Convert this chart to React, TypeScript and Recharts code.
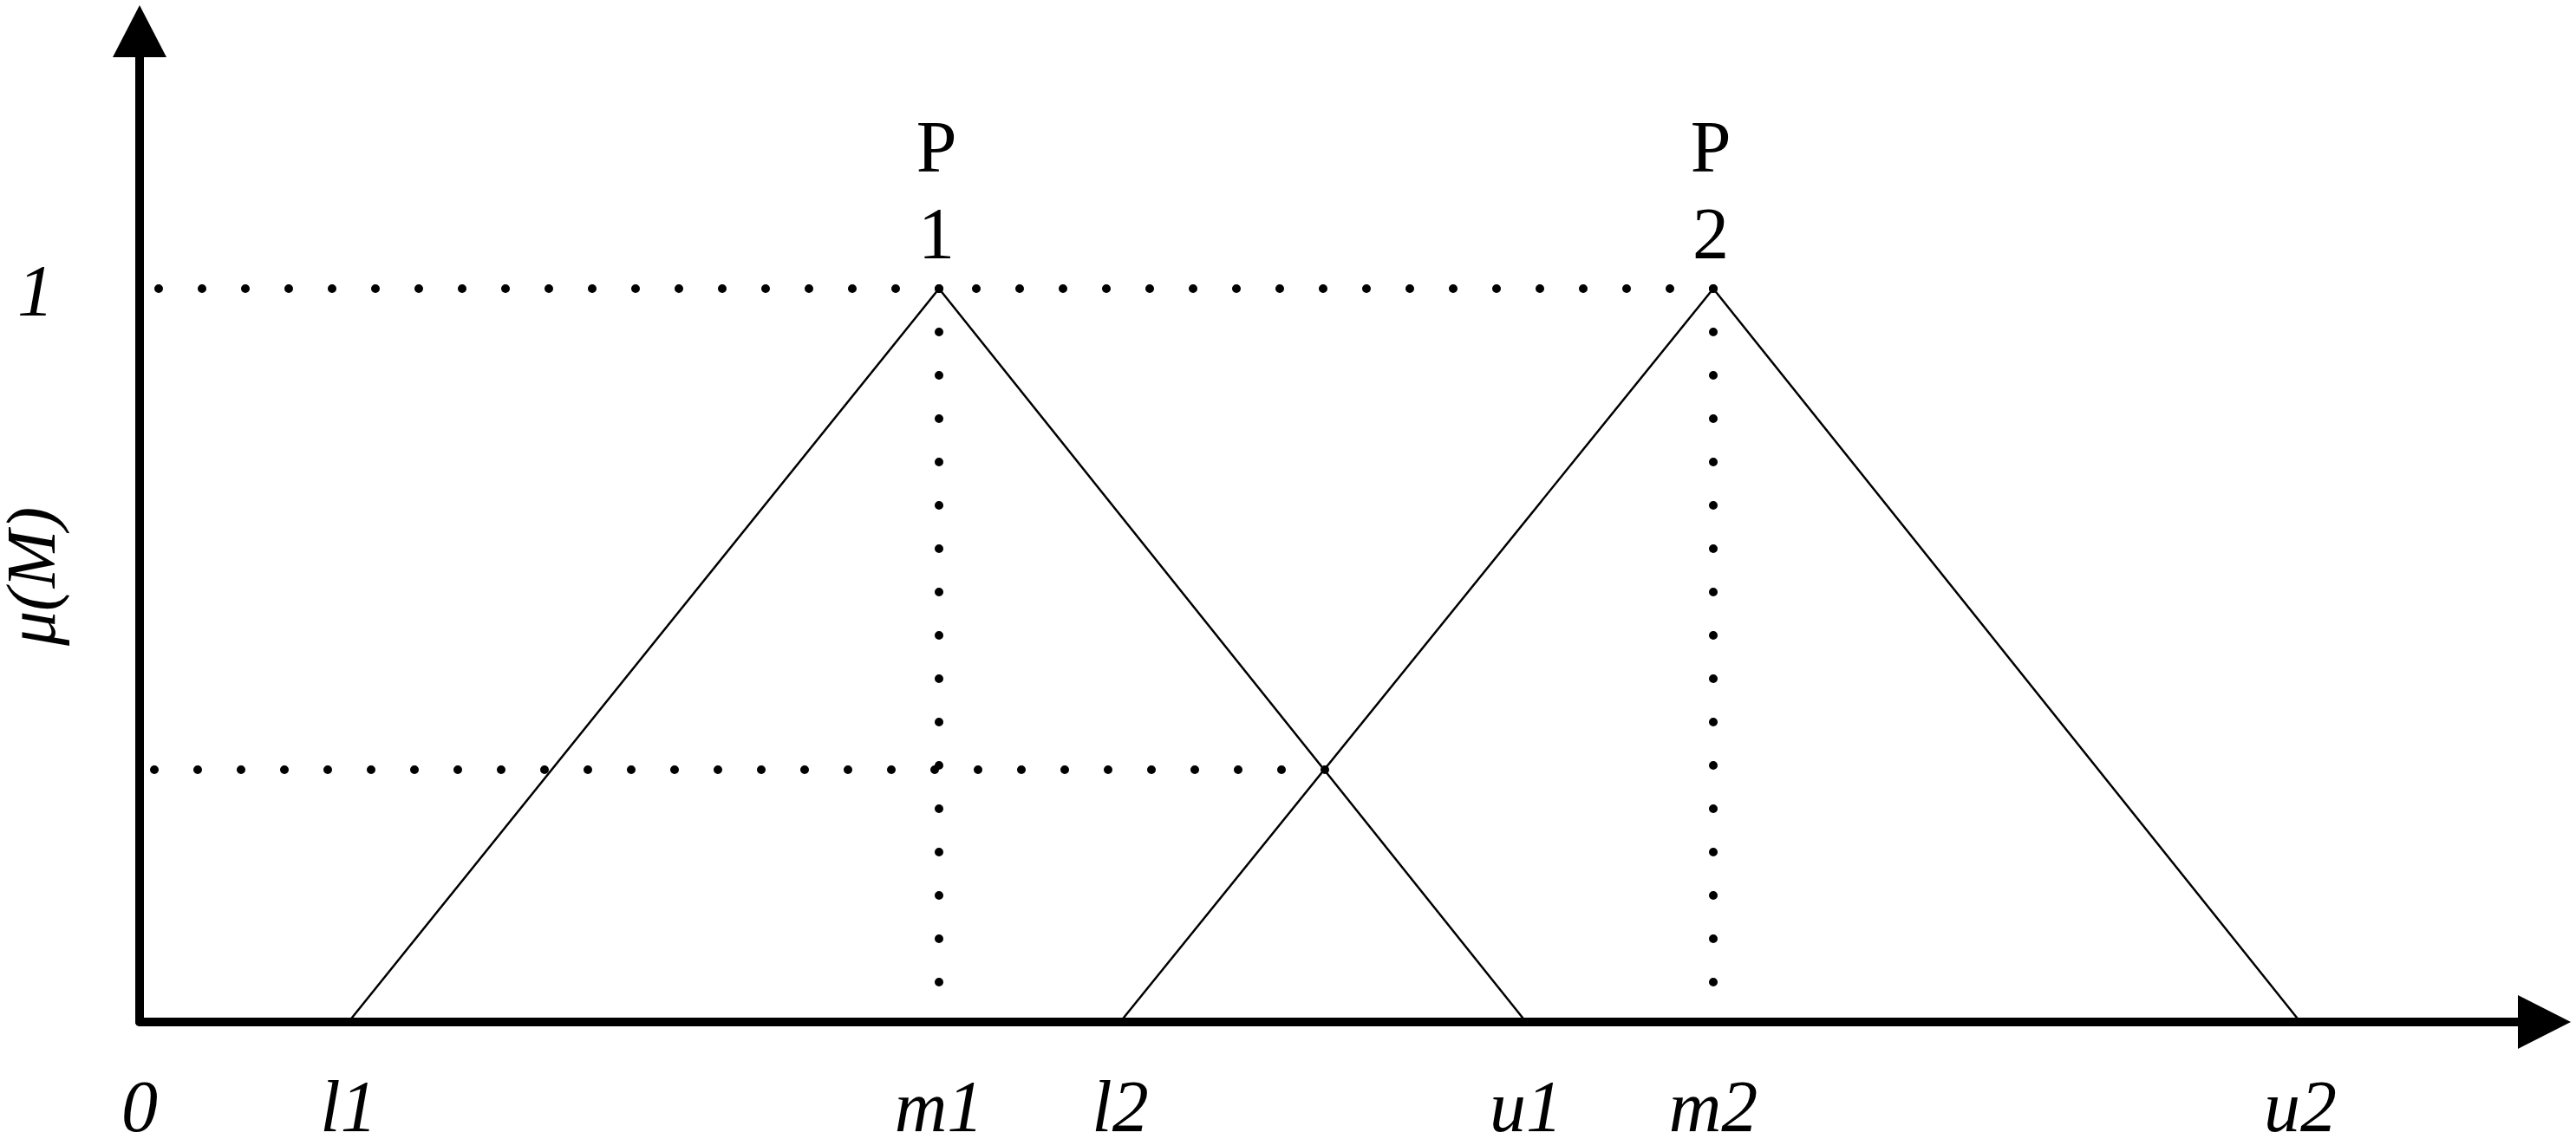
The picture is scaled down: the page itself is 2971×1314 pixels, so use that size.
import React from "react";
import {
  ComposedChart,
  Line,
  Scatter,
  XAxis,
  YAxis,
  ReferenceLine,
  Label,
} from "recharts";

// x positions of the fuzzy numbers (arbitrary units, y axis at 0)
const xTickValues = [0, 2.41, 9.22, 11.31, 15.99, 18.15, 24.92];
const xTickLabels = ["0", "l1", "m1", "l2", "u1", "m2", "u2"];

const yTickValues = [1];
const yTickLabels = ["1"];

const triangle1 = [
  { x: 2.41, y: 0 },
  { x: 9.22, y: 1 },
  { x: 15.99, y: 0 },
];
const triangle2 = [
  { x: 11.31, y: 0 },
  { x: 18.15, y: 1 },
  { x: 24.92, y: 0 },
];

const peaks = [
  { x: 9.22, y: 1, name: "P", sub: "1" },
  { x: 18.15, y: 1, name: "P", sub: "2" },
];

// crossing of the two triangles and where the dotted guides start
const crossing = { x: 13.67, y: 0.344 };
const guideStart = [0.2, 0.15];

// axis ends and arrow tips
const axisEnd = { x: 27.5, y: 1.32 };
const arrowTips = [
  { x: 28.04, y: 0, dir: "right" },
  { x: 0, y: 1.3865, dir: "up" },
];

const serif = "'Liberation Serif', 'Times New Roman', serif";
const dotted = {
  stroke: "#000",
  strokeWidth: 10,
  strokeDasharray: "0 50",
  strokeLinecap: "round" as const,
};

const XTick = (props: any) => {
  const { x, y, payload } = props;
  const i = xTickValues.indexOf(payload.value);
  return (
    <text x={x} y={y + 126} textAnchor="middle" fontFamily={serif} fontStyle="italic" fontSize={84} fill="#000">
      {xTickLabels[i]}
    </text>
  );
};

const YTick = (props: any) => {
  const { x, y, payload } = props;
  const i = yTickValues.indexOf(payload.value);
  return (
    <text x={x - 120} y={y + 31} textAnchor="middle" fontFamily={serif} fontStyle="italic" fontSize={84} fill="#000">
      {yTickLabels[i]}
    </text>
  );
};

const MuLabel = (props: any) => {
  const vb = props.viewBox || { x: 0, y: 0, width: 161, height: 1176 };
  const cx = vb.x + 63;
  const cy = vb.y + 662;
  return (
    <text
      x={cx}
      y={cy}
      transform={`rotate(-90, ${cx}, ${cy})`}
      textAnchor="middle"
      fontFamily={serif}
      fontStyle="italic"
      fontSize={80}
      fill="#000"
    >
      μ(M)
    </text>
  );
};

const PeakLabel = (props: any) => {
  const { cx, cy, payload } = props;
  return (
    <g>
      <text x={cx - 3} y={cy - 135} textAnchor="middle" fontFamily={serif} fontSize={84} fill="#000">
        {payload.name}
      </text>
      <text x={cx - 3} y={cy - 35} textAnchor="middle" fontFamily={serif} fontSize={84} fill="#000">
        {payload.sub}
      </text>
    </g>
  );
};

const Arrow = (props: any) => {
  const { cx, cy, payload } = props;
  const pts =
    payload.dir === "right"
      ? `${cx},${cy} ${cx - 61},${cy - 31} ${cx - 61},${cy + 31}`
      : `${cx},${cy} ${cx - 31},${cy + 60} ${cx + 31},${cy + 60}`;
  return <polygon points={pts} fill="#000" />;
};

export default function App() {
  const m1 = peaks[0].x;
  const m2 = peaks[1].x;
  return (
    <div style={{ position: "fixed", left: 0, top: 0, background: "#fff" }}>
      <ComposedChart width={2971} height={1314} margin={{ top: 3, right: 0, bottom: 0, left: 0 }}>
        <XAxis
          type="number"
          dataKey="x"
          domain={[0, 28.1]}
          ticks={xTickValues}
          height={135}
          axisLine={false}
          tickLine={false}
          tickSize={0}
          tickMargin={0}
          tick={<XTick />}
          interval={0}
        />
        <YAxis
          type="number"
          dataKey="y"
          domain={[0, 1.39]}
          ticks={yTickValues}
          width={161}
          axisLine={false}
          tickLine={false}
          tickSize={0}
          tickMargin={0}
          tick={<YTick />}
        >
          <Label content={<MuLabel />} />
        </YAxis>

        {/* dotted guides */}
        <ReferenceLine segment={[{ x: m1, y: 1 }, { x: guideStart[0], y: 1 }]} {...dotted} />
        <ReferenceLine segment={[{ x: m2, y: 1 }, { x: m1, y: 1 }]} {...dotted} />
        <ReferenceLine segment={[{ x: m1, y: 1 }, { x: m1, y: 0 }]} {...dotted} />
        <ReferenceLine segment={[{ x: m2, y: 1 }, { x: m2, y: 0 }]} {...dotted} />
        <ReferenceLine
          segment={[{ x: crossing.x, y: crossing.y }, { x: guideStart[1], y: crossing.y }]}
          {...dotted}
        />

        <Line data={triangle1} dataKey="y" stroke="#000" strokeWidth={2.5} dot={false} activeDot={false} isAnimationActive={false} />
        <Line data={triangle2} dataKey="y" stroke="#000" strokeWidth={2.5} dot={false} activeDot={false} isAnimationActive={false} />

        {/* axes */}
        <ReferenceLine segment={[{ x: 0, y: 0 }, { x: axisEnd.x, y: 0 }]} stroke="#000" strokeWidth={10} strokeLinecap="round" />
        <ReferenceLine segment={[{ x: 0, y: 0 }, { x: 0, y: axisEnd.y }]} stroke="#000" strokeWidth={10} strokeLinecap="round" />
        <Scatter data={arrowTips} dataKey="y" shape={<Arrow />} isAnimationActive={false} />
        <Scatter data={peaks} dataKey="y" shape={<PeakLabel />} isAnimationActive={false} />
      </ComposedChart>
    </div>
  );
}
